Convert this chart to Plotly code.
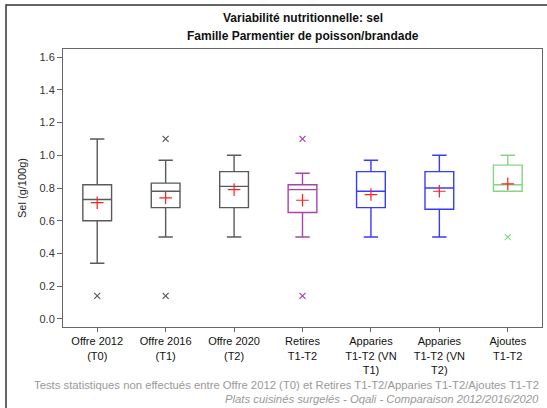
import plotly.graph_objects as go

categories = ["Offre 2012<br>(T0)", "Offre 2016<br>(T1)", "Offre 2020<br>(T2)", "Retires<br>T1-T2",
              "Apparies<br>T1-T2 (VN<br>T1)", "Apparies<br>T1-T2 (VN<br>T2)", "Ajoutes<br>T1-T2"]
q1 = [0.60, 0.68, 0.68, 0.65, 0.68, 0.67, 0.78]
median = [0.73, 0.78, 0.81, 0.79, 0.78, 0.80, 0.82]
q3 = [0.82, 0.83, 0.90, 0.82, 0.90, 0.90, 0.94]
lower = [0.34, 0.50, 0.50, 0.50, 0.50, 0.50, 0.78]
upper = [1.10, 0.97, 1.00, 0.89, 0.97, 1.00, 1.00]
means = [0.71, 0.74, 0.79, 0.725, 0.76, 0.78, 0.825]
outliers = [[0.14], [1.10, 0.14], [], [1.10, 0.14], [], [], [0.50]]
colors = ["#5a5a5a", "#5a5a5a", "#5a5a5a", "#a545aa", "#3a3aff", "#3a3aff", "#85d685"]

fig = go.Figure()
for i in range(len(categories)):
    fig.add_trace(go.Box(
        x=[i], q1=[q1[i]], median=[median[i]], q3=[q3[i]],
        lowerfence=[lower[i]], upperfence=[upper[i]],
        width=0.42, whiskerwidth=0.5, boxpoints=False,
        line=dict(color=colors[i], width=1.4), fillcolor="rgba(0,0,0,0)",
        showlegend=False, hoverinfo="skip"))
    if outliers[i]:
        fig.add_trace(go.Scatter(
            x=[i] * len(outliers[i]), y=outliers[i], mode="markers",
            marker=dict(symbol="x-thin", size=6, line=dict(color=colors[i], width=1.2)),
            showlegend=False))
fig.add_trace(go.Scatter(
    x=list(range(len(categories))), y=means, mode="markers",
    marker=dict(symbol="cross-thin", size=9, line=dict(color="#ff2020", width=1.2)),
    showlegend=False))

font = "Liberation Sans, Arial, sans-serif"
fig.update_layout(
    width=547, height=408,
    margin=dict(l=63, r=5, t=49, b=81),
    paper_bgcolor="white", plot_bgcolor="white",
    font=dict(family=font, size=11, color="#222"),
    xaxis=dict(range=[-0.5, 6.5], tickvals=list(range(len(categories))), ticktext=categories,
               showline=True, mirror=True, linecolor="#666", linewidth=1,
               ticks="outside", ticklen=4, tickcolor="#666", showgrid=False, zeroline=False,
               tickfont=dict(size=11, color="#111")),
    yaxis=dict(range=[-0.05, 1.65], tickvals=[0, 0.2, 0.4, 0.6, 0.8, 1.0, 1.2, 1.4, 1.6],
               tickformat=".1f", showline=True, mirror=True, linecolor="#666", linewidth=1,
               ticks="outside", ticklen=5, tickcolor="#666", showgrid=False, zeroline=False,
               tickfont=dict(size=11, color="#333"),
               title=dict(text="Sel (g/100g)", font=dict(size=11, color="#222"), standoff=10)),
    annotations=[
        dict(text="<b>Variabilité nutritionnelle: sel</b>", xref="paper", yref="paper",
             x=0.5, y=(327 - 18) / 278, xanchor="center", yanchor="middle", showarrow=False,
             font=dict(size=12, color="#111")),
        dict(text="<b>Famille Parmentier de poisson/brandade</b>", xref="paper", yref="paper",
             x=0.5, y=(327 - 36) / 278, xanchor="center", yanchor="middle", showarrow=False,
             font=dict(size=12, color="#111")),
        dict(text="Tests statistiques non effectués entre Offre 2012 (T0) et Retires T1-T2/Apparies T1-T2/Ajoutes T1-T2",
             xref="paper", yref="paper", x=(541 - 63) / 479, y=(327 - 385) / 278,
             xanchor="right", yanchor="middle", showarrow=False, font=dict(size=11.3, color="#999")),
        dict(text="<i>Plats cuisinés surgelés - Oqali - Comparaison 2012/2016/2020</i>",
             xref="paper", yref="paper", x=(541 - 63) / 479, y=(327 - 399) / 278,
             xanchor="right", yanchor="middle", showarrow=False, font=dict(size=11.3, color="#999")),
    ],
    shapes=[dict(type="rect", xref="paper", yref="paper",
                 x0=(6 - 63) / 479, x1=(570 - 63) / 479, y0=(327 - 430) / 278, y1=(327 - 5) / 278,
                 line=dict(color="#333", width=1.5), layer="below")],
)

fig.write_html("out.html", config={"displayModeBar": False},
               post_script="document.body.style.margin='0';document.body.style.overflow='hidden';")
